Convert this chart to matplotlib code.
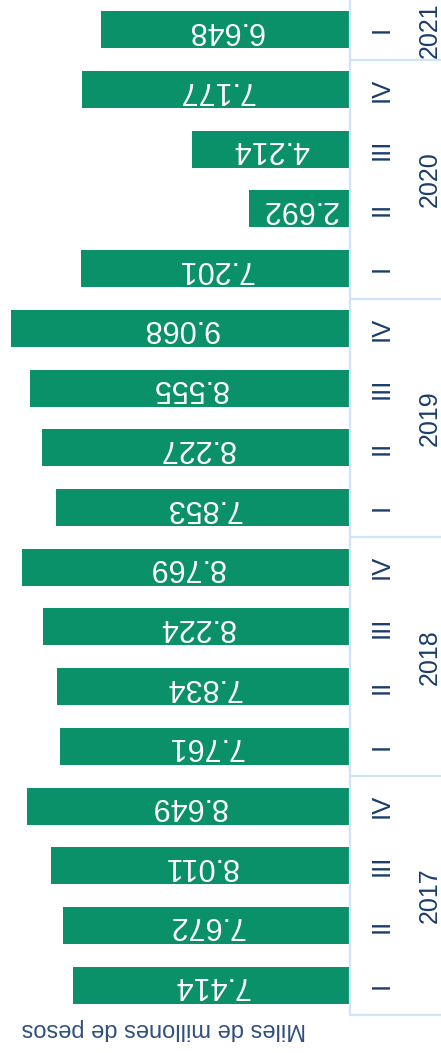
import matplotlib
matplotlib.use("Agg")
import matplotlib.pyplot as plt
import matplotlib.transforms as mtransforms

plt.rcParams['font.family'] = ['Liberation Sans', 'DejaVu Sans']

years = ["2017", "2018", "2019", "2020", "2021"]
quarters = ["I", "II", "III", "IV",
            "I", "II", "III", "IV",
            "I", "II", "III", "IV",
            "I", "II", "III", "IV",
            "I"]
values = [7414, 7672, 8011, 8649,
          7761, 7834, 8224, 8769,
          7853, 8227, 8555, 9068,
          7201, 2692, 4214, 7177,
          6648]
year_sizes = [4, 4, 4, 4, 1]
axis_title = "Miles de millones de pesos"

GREEN = "#0a916a"
NAVY = "#1a3d6b"
TITLE = "#2f5079"
LINE = "#cfe4fa"

W, H = 441, 1053
fig = plt.figure(figsize=(W / 100, H / 100), dpi=100)
ax_right = 350 / W
ax_bottom = (H - 1015) / H
ax = fig.add_axes([0, ax_bottom, ax_right, 1015 / H])

n = len(values)
ypos = list(range(n))
ax.barh(ypos, values, height=0.62, color=GREEN)
ax.set_ylim(-0.5, n - 0.5)
ax.set_xlim(9363, 0)

for s in ["top", "bottom", "left"]:
    ax.spines[s].set_visible(False)
ax.spines["right"].set_color(LINE)
ax.spines["right"].set_linewidth(1.6)
ax.set_xticks([])
ax.set_yticks([])

for y, v in zip(ypos, values):
    lab = f"{v:,}".replace(",", ".")
    ax.text(v / 2, y, lab, rotation=180, ha="center", va="center",
            color="white", fontsize=22)

trans = mtransforms.blended_transform_factory(fig.transFigure, ax.transData)
for y, q in zip(ypos, quarters):
    ax.text(382 / W, y, q, transform=trans, rotation=90, ha="center",
            va="center", color=NAVY, fontsize=18.5)

start = 0
for yr, sz in zip(years, year_sizes):
    lo = start - 0.5
    hi = start + sz - 0.5
    ax.text(430 / W, (lo + hi) / 2, yr, transform=trans, rotation=90,
            ha="center", va="center", color=NAVY, fontsize=18)
    ax.plot([ax_right, 1.0], [lo, lo], transform=trans, color=LINE,
            lw=1.6, clip_on=False, solid_capstyle="butt")
    start += sz

fig.text(164 / W, 1 - 1029 / H, axis_title, rotation=180, ha="center",
         va="center", color=TITLE, fontsize=17)

fig.savefig("out.png", dpi=100)
